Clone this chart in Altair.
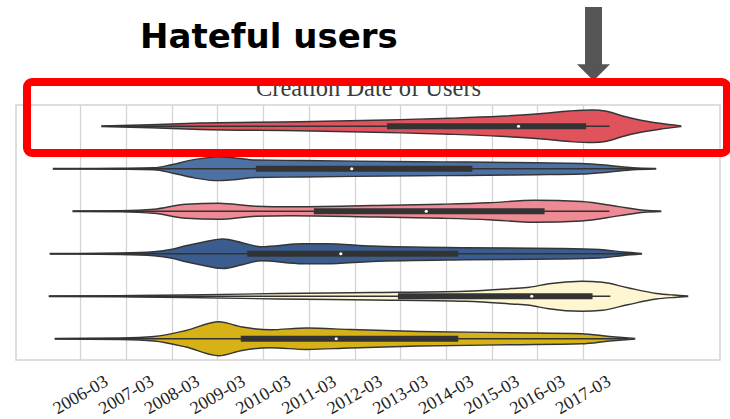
import altair as alt
import pandas as pd

# Six groups of accounts, one horizontal violin each (top to bottom)
GROUPS = ["Hateful", "Normal", "Hateful neighbors", "Normal neighbors", "Suspended", "Active"]
COLORS = ["#e0535d", "#4e71a3", "#ee8a94", "#3b5c8f", "#fdf6d0", "#d6b216"]

# Violin outlines: account creation date (decimal year) and half-width (in row units)
HATEFUL_YEAR = [2006.63, 2007.69, 2008.78, 2010.96, 2012.87, 2014.24, 2015.34, 2016.21,
                2016.87, 2017.37, 2017.68, 2018.03, 2018.40, 2018.84, 2019.30]
HATEFUL_HALF = [0.007, 0.035, 0.075, 0.105, 0.148, 0.188, 0.235, 0.294,
                0.360, 0.384, 0.353, 0.242, 0.148, 0.070, 0.010]

NORMAL_YEAR = [2005.57, 2007.03, 2007.77, 2008.17, 2008.67, 2009.17, 2009.50, 2010.00,
               2011.03, 2012.14, 2013.57, 2014.59, 2016.10, 2017.13, 2017.74, 2018.25, 2018.75]
NORMAL_HALF = [0.007, 0.014, 0.024, 0.100, 0.220, 0.280, 0.260, 0.205,
               0.195, 0.180, 0.165, 0.158, 0.140, 0.125, 0.078, 0.024, 0.007]

HATEFUL_NB_YEAR = [2006.00, 2007.03, 2007.77, 2008.47, 2009.19, 2010.00, 2010.75, 2012.54,
                   2014.07, 2015.10, 2016.10, 2017.13, 2017.94, 2018.51, 2018.86]
HATEFUL_NB_HALF = [0.007, 0.014, 0.047, 0.165, 0.188, 0.118, 0.106, 0.134,
                   0.165, 0.200, 0.259, 0.228, 0.110, 0.024, 0.007]

NORMAL_NB_YEAR = [2005.50, 2007.03, 2007.77, 2008.17, 2008.47, 2008.78, 2009.28, 2009.70,
                  2010.11, 2011.03, 2011.53, 2012.54, 2014.59, 2016.63, 2017.52, 2018.05, 2018.44]
NORMAL_NB_HALF = [0.007, 0.019, 0.047, 0.106, 0.188, 0.259, 0.346, 0.259,
                  0.165, 0.235, 0.235, 0.181, 0.141, 0.125, 0.101, 0.040, 0.007]

SUSPENDED_YEAR = [2005.48, 2007.00, 2008.47, 2010.50, 2012.54, 2014.59, 2015.60, 2015.99,
                  2016.41, 2017.13, 2017.59, 2018.14, 2018.77, 2019.16, 2019.45]
SUSPENDED_HALF = [0.007, 0.015, 0.031, 0.064, 0.087, 0.118, 0.181, 0.212,
                  0.294, 0.353, 0.329, 0.200, 0.066, 0.028, 0.007]

ACTIVE_YEAR = [2005.61, 2007.03, 2007.77, 2008.47, 2009.19, 2009.70, 2010.31, 2011.12,
               2012.04, 2013.57, 2015.60, 2017.13, 2017.74, 2018.29]
ACTIVE_HALF = [0.007, 0.019, 0.054, 0.195, 0.400, 0.275, 0.212, 0.252,
               0.219, 0.172, 0.141, 0.118, 0.054, 0.007]

# Inner box plot of every group
WHISK_LO = [2006.65, 2005.57, 2006.00, 2005.50, 2005.48, 2005.61]
Q1 = [2012.87, 2010.00, 2011.27, 2009.81, 2013.11, 2009.67]
MEDIAN = [2015.75, 2012.10, 2013.73, 2011.86, 2016.04, 2011.76]
Q3 = [2017.23, 2014.74, 2016.32, 2014.43, 2017.37, 2014.43]
WHISK_HI = [2017.74, 2018.50, 2017.74, 2018.30, 2017.76, 2018.15]

TICK_YEARS = [2006.16 + i for i in range(12)]  # March of 2006 ... 2017

profiles = [
    (HATEFUL_YEAR, HATEFUL_HALF),
    (NORMAL_YEAR, NORMAL_HALF),
    (HATEFUL_NB_YEAR, HATEFUL_NB_HALF),
    (NORMAL_NB_YEAR, NORMAL_NB_HALF),
    (SUSPENDED_YEAR, SUSPENDED_HALF),
    (ACTIVE_YEAR, ACTIVE_HALF),
]

rows = []
for idx, (name, (years, halves)) in enumerate(zip(GROUPS, profiles)):
    for yr, hw in zip(years, halves):
        rows.append({"group": name, "row": idx, "year": yr, "lo": idx - hw, "hi": idx + hw})
violin_df = pd.DataFrame(rows)

box_df = pd.DataFrame({
    "group": GROUPS,
    "row": list(range(len(GROUPS))),
    "wlo": WHISK_LO, "q1": Q1, "median": MEDIAN, "q3": Q3, "whi": WHISK_HI,
})

x_scale = alt.Scale(domain=[2004.75, 2020.16], nice=False, zero=False)
y_scale = alt.Scale(domain=[-0.5, 5.5], reverse=True, nice=False, zero=False)

x_axis = alt.Axis(
    title=None, values=TICK_YEARS, labelExpr="floor(datum.value) + '-03'",
    grid=True, gridColor="#d4d4d4", gridWidth=1.3, domain=False, ticks=False, tickSize=0,
    labelAngle=-30, labelAlign="center", labelBaseline="middle", labelPadding=35,
    labelFont="Liberation Serif", labelFontSize=18, labelColor="#222222",
    labelFlush=False, labelOverlap=False,
)

violins = alt.Chart(violin_df).mark_area(
    interpolate="monotone", stroke="#353535", strokeWidth=1.4, opacity=1
).encode(
    x=alt.X("year:Q", scale=x_scale, axis=x_axis),
    y=alt.Y("lo:Q", scale=y_scale, axis=None),
    y2="hi:Q",
    color=alt.Color("group:N", scale=alt.Scale(domain=GROUPS, range=COLORS), legend=None),
    detail="group:N",
)

whiskers = alt.Chart(box_df).mark_rule(color="#333333", strokeWidth=1.5).encode(
    x=alt.X("wlo:Q", scale=x_scale), x2="whi:Q",
    y=alt.Y("row:Q", scale=y_scale, axis=None),
)

iqr = alt.Chart(box_df).mark_rule(color="#333333", strokeWidth=6).encode(
    x=alt.X("q1:Q", scale=x_scale), x2="q3:Q",
    y=alt.Y("row:Q", scale=y_scale, axis=None),
)

medians = alt.Chart(box_df).mark_point(
    filled=True, color="white", size=10, opacity=1
).encode(
    x=alt.X("median:Q", scale=x_scale),
    y=alt.Y("row:Q", scale=y_scale, axis=None),
)

# Annotations above the plot
plot_title = alt.Chart(alt.Data(values=[{"t": "Creation Date of Users"}])).mark_text(
    font="Liberation Serif", fontSize=24.5, color="#3a3a3a", align="center", baseline="alphabetic"
).encode(x=alt.value(352.5), y=alt.value(-9), text="t:N")

headline = alt.Chart(alt.Data(values=[{"t": "Hateful users"}])).mark_text(
    font="DejaVu Sans", fontWeight="bold", fontSize=34, color="#000000",
    align="left", baseline="alphabetic"
).encode(x=alt.value(124), y=alt.value(-57.5), text="t:N")

arrow_shaft = alt.Chart(alt.Data(values=[{}])).mark_rect(color="#555555").encode(
    x=alt.value(569), x2=alt.value(586), y=alt.value(-98), y2=alt.value(-40)
)

arrow_head = alt.Chart(alt.Data(values=[{}])).mark_point(
    shape="M-1,-0.5L1,-0.5L0,0.5Z", filled=True, color="#555555", size=1089, opacity=1
).encode(x=alt.value(577.5), y=alt.value(-32.5))

highlight = alt.Chart(alt.Data(values=[{}])).mark_rect(
    fill="white", fillOpacity=0, stroke="#ff0000", strokeWidth=8, cornerRadius=5
).encode(x=alt.value(11), x2=alt.value(711), y=alt.value(-23), y2=alt.value(48))

chart = alt.layer(
    violins, whiskers, iqr, medians, plot_title, headline, arrow_shaft, arrow_head, highlight
).properties(
    width=704, height=255,
    padding={"left": 16, "top": 105, "right": 10, "bottom": 59},
    autosize=alt.AutoSizeParams(type="none"),
    background="white",
).configure_view(stroke="#d4d4d4", strokeWidth=1.5)

chart.save("out.html", embed_options={"renderer": "svg", "actions": False})
